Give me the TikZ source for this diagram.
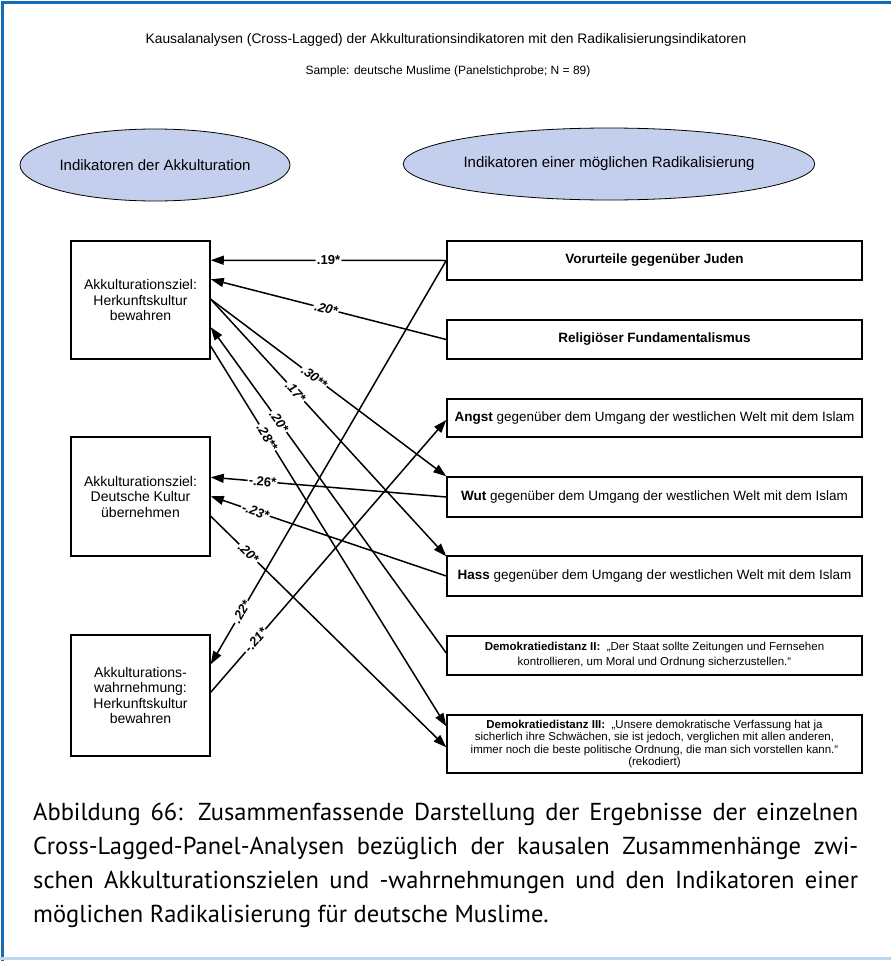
\documentclass[tikz,border=0pt]{standalone}
\usepackage{fontspec}
\setmainfont{Liberation Sans}
\newfontfamily\capfont{PT Sans}
\usetikzlibrary{arrows.meta,calc,shapes.geometric}
\definecolor{frameblue}{RGB}{22,108,178}
\definecolor{framelight}{RGB}{190,215,238}
\definecolor{ellfill}{RGB}{196,207,238}
\begin{document}
\begin{tikzpicture}[x=1pt,y=-1pt,
  box/.style={draw, line width=1.5pt, rectangle, inner sep=2pt, align=center},
  lbox/.style={box, minimum width=139pt, font=\fontsize{14}{15.5}\selectfont},
  rbox/.style={box, minimum width=415pt, font=\fontsize{13.5}{15}\selectfont},
  dbox/.style={box, minimum width=415pt, font=\fontsize{11.5}{12.5}\selectfont},
  ell/.style={draw, line width=0.8pt, ellipse, fill=ellfill, inner sep=0pt, font=\fontsize{15}{17}\selectfont},
  conn/.style={line width=1.5pt, -{Triangle[length=13pt,width=9pt]}},
  lab/.style={fill=white, inner sep=1.2pt, font=\fontsize{13}{15}\selectfont\bfseries\itshape, sloped},
  labu/.style={lab, font=\fontsize{13}{15}\selectfont\bfseries},
  ttl/.style={font=\fontsize{13.8}{15}\selectfont},
  captxt/.style={anchor=base west, inner sep=0pt, font=\capfont\fontsize{24.5}{28}\selectfont}
]
\useasboundingbox (0,0) rectangle (891,961);
\fill[white] (0,0) rectangle (891,961);
% frame
\draw[frameblue, line width=3pt] (2,961) -- (2,2) -- (891,2);
\draw[framelight, line width=3pt] (0,958) -- (891,958);

% titles
\node[ttl] (t1) at (446,40) {Kausalanalysen (Cross-Lagged) der Akkulturationsindikatoren mit den Radikalisierungsindikatoren};
\node[font=\fontsize{12}{14}\selectfont] (t2) at (448,71) {Sample: deutsche Muslime (Panelstichprobe; N = 89)};

% ellipses
\node[ell, minimum width=230pt, minimum height=72pt] (E1) at (155,165) {Indikatoren der Akkulturation};
\node[ell, minimum width=314pt, minimum height=72pt] (E2) at (609,164) {Indikatoren einer möglichen Radikalisierung};

% left boxes
\node[lbox, minimum height=118pt] (B1) at (140.5,300) {Akkulturationsziel:\\Herkunftskultur\\bewahren};
\node[lbox, minimum height=119pt] (B2) at (140.5,496.5) {Akkulturationsziel:\\Deutsche Kultur\\übernehmen};
\node[lbox, minimum height=121pt] (B3) at (140.5,695.5) {Akkulturations-\\wahrnehmung:\\Herkunftskultur\\bewahren};

% right boxes
\node[rbox, minimum height=39pt] (R1) at (654.5,260.5) {\textbf{Vorurteile gegenüber Juden}};
\node[rbox, minimum height=39pt] (R2) at (654.5,339.5) {\textbf{Religiöser Fundamentalismus}};
\node[rbox, minimum height=38pt] (R3) at (654.5,418) {\textbf{Angst} gegenüber dem Umgang der westlichen Welt mit dem Islam};
\node[rbox, minimum height=40pt] (R4) at (654.5,497) {\textbf{Wut} gegenüber dem Umgang der westlichen Welt mit dem Islam};
\node[rbox, minimum height=40pt] (R5) at (654.5,576) {\textbf{Hass} gegenüber dem Umgang der westlichen Welt mit dem Islam};
\node[dbox, minimum height=39pt, font=\fontsize{11.5}{15}\selectfont] (R6) at (654.5,655.5) {\textbf{Demokratiedistanz II:}\ \ „Der Staat sollte Zeitungen und Fernsehen\\kontrollieren, um Moral und Ordnung sicherzustellen.“};
\node[dbox, minimum height=58pt] (R7) at (654.5,744) {\textbf{Demokratiedistanz III:}\ \ „Unsere demokratische Verfassung hat ja\\sicherlich ihre Schwächen, sie ist jedoch, verglichen mit allen anderen,\\immer noch die beste politische Ordnung, die man sich vorstellen kann.“\\(rekodiert)};

% connectors
\draw[conn] (R1.west) -- node[labu,pos=0.5] {.19*} ($(B1.north east)+(0,20)$);
\draw[conn] (R2.west) -- node[lab,pos=0.51] {.20*} ($(B1.north east)+(0,39)$);
\draw[conn] ($(B1.north east)+(0,59)$) -- node[lab,pos=0.44] {.30**} (R4.north west);
\draw[conn] ($(B1.north east)+(0,59)$) -- node[lab,pos=0.36] {.17*} ($(R5.north west)+(0,1)$);
\draw[conn] ($(R6.west)+(0,-2.5)$) -- node[lab,pos=0.71] {.20*} ($(B1.north east)+(0,87)$);
\draw[conn] ($(B1.north east)+(0,106)$) -- node[lab,pos=0.24] {.28**} ($(R7.north west)+(0,12)$);
\draw[conn] (R4.west) -- node[labu,pos=0.78] {-.26*} ($(B2.north east)+(0,41)$);
\draw[conn] (R5.west) -- node[lab,pos=0.81] {-.23*} ($(B2.north east)+(0,60)$);
\draw[conn] ($(B2.north east)+(0,80)$) -- node[lab,pos=0.16] {.20*} ($(R7.north west)+(0,33)$);
\draw[conn] (R1.west) -- node[lab,pos=0.87] {.22*} ($(B3.north east)+(0,30)$);
\draw[conn] ($(B3.north east)+(0,58)$) -- node[lab,pos=0.19] {-.21*} ($(R3.west)+(0,2)$);

% caption
\node[captxt] (c1) at (33,820) {\makebox[825pt][s]{Abbildung 66: Zusammenfassende Darstellung der Ergebnisse der einzelnen}};
\node[captxt] (c2) at (33,854) {\makebox[825pt][s]{Cross-Lagged-Panel-Analysen bezüglich der kausalen Zusammenhänge zwi-}};
\node[captxt] (c3) at (33,888) {\makebox[825pt][s]{schen Akkulturationszielen und -wahrnehmungen und den Indikatoren einer}};
\node[captxt] (c4) at (33,922) {möglichen Radikalisierung für deutsche Muslime.};
\end{tikzpicture}
\end{document}
